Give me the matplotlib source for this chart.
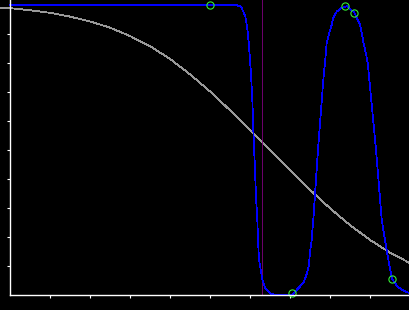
import matplotlib
matplotlib.use('Agg')
import matplotlib.pyplot as plt

# gray curve
gray_x = [-0.25, 0, 0.5, 1, 1.5, 2, 2.5, 3, 3.5, 4, 4.5, 5, 5.5, 6, 6.5,
          7, 7.5, 8, 8.5, 9, 9.5, 10]
gray_y = [0.991, 0.989, 0.982, 0.973, 0.960, 0.943, 0.922, 0.893, 0.858, 0.814,
          0.761, 0.702, 0.637, 0.569, 0.500, 0.431, 0.363, 0.299, 0.241, 0.190,
          0.146, 0.110]

# blue response curve
blue_x = [0, 5.65, 5.775, 5.833, 5.883, 5.918, 5.95, 5.975, 6.0, 6.025, 6.058,
          6.083, 6.125, 6.15, 6.183, 6.2, 6.225, 6.268, 6.308, 6.375, 6.45,
          6.518, 6.675, 7.05, 7.168, 7.333, 7.4, 7.468, 7.5, 7.543, 7.568,
          7.583, 7.7, 7.833, 7.875, 7.918, 7.983, 8.043, 8.083, 8.168, 8.293,
          8.425, 8.608, 8.668, 8.75, 8.793, 8.833, 8.893, 8.943, 8.983, 9.15,
          9.293, 9.333, 9.458, 9.55, 9.668, 9.768, 9.85, 9.975, 10.05]
blue_y = [1.0, 1.0, 0.994, 0.977, 0.960, 0.932, 0.898, 0.857, 0.812, 0.761, 0.673,
          0.570, 0.432, 0.339, 0.260, 0.191, 0.122, 0.087, 0.053, 0.025, 0.015,
          0.004, 0.0, 0.0, 0.018, 0.041, 0.064, 0.099, 0.146, 0.191, 0.237,
          0.260, 0.501, 0.742, 0.801, 0.870, 0.904, 0.932, 0.956, 0.977, 0.990,
          0.996, 0.974, 0.956, 0.932, 0.904, 0.873, 0.836, 0.801, 0.742, 0.501,
          0.260, 0.225, 0.122, 0.056, 0.032, 0.021, 0.014, 0.007, 0.004]

# marked points
pts_x = [5.0, 7.05, 8.383, 8.608, 9.55]
pts_y = [1.0, 0.008, 0.995, 0.974, 0.056]

vline_x = 6.29

fig = plt.figure(figsize=(4.1, 3.1), dpi=100, facecolor='black')
ax = fig.add_axes([0, 0, 1, 1])
ax.set_facecolor('black')

ax.plot(gray_x, gray_y, color='#999999', lw=0.6, antialiased=False)
ax.vlines(vline_x, 0, 1.02, color='#800080', lw=0.6)
ax.plot(blue_x, blue_y, color='#0000ff', lw=0.55, antialiased=False)
ax.plot(pts_x, pts_y, 'o', ms=5.2, mfc='none', mec='#33ee33', mew=0.8)

ax.set_xlim(-0.25, 10)
ax.set_ylim(-0.0517, 1.0172)
ax.set_xticks(range(1, 10))
ax.set_yticks([i / 10 for i in range(1, 10)])
ax.tick_params(colors='white', length=2.5, width=0.8, direction='out',
               labelbottom=False, labelleft=False)
for s in ['top', 'right']:
    ax.spines[s].set_visible(False)
for s in ['left', 'bottom']:
    ax.spines[s].set_color('white')
    ax.spines[s].set_linewidth(1.0)
ax.spines['left'].set_position(('data', 0))
ax.spines['bottom'].set_position(('data', 0))
ax.spines['left'].set_bounds(0, 1.0172)
ax.spines['bottom'].set_bounds(0, 10)

fig.savefig('out.png', dpi=100, facecolor='black')
